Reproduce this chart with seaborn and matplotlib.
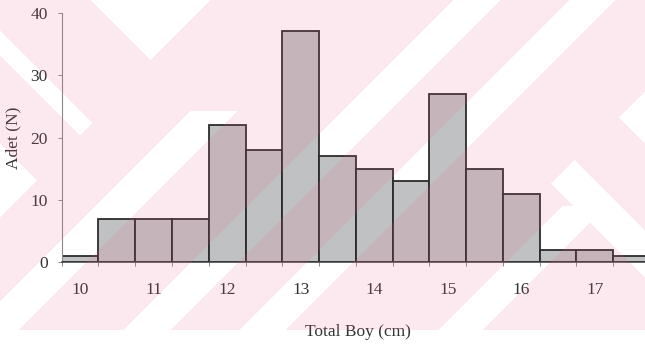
import numpy as np
import pandas as pd
import matplotlib
matplotlib.use("Agg")
import matplotlib.pyplot as plt
import seaborn as sns

# Length-frequency table: class mid-points (cm) and number of fish per class
bin_centers = [10.0, 10.5, 11.0, 11.5, 12.0, 12.5, 13.0, 13.5,
               14.0, 14.5, 15.0, 15.5, 16.0, 16.5, 17.0, 17.5]
counts = [1, 7, 7, 7, 22, 18, 37, 17, 15, 13, 27, 15, 11, 2, 2, 1]
x_ticks = [10, 11, 12, 13, 14, 15, 16, 17]
x_tick_labels = ["10", "11", "12", "13", "14", "15", "16", "17"]
y_ticks = [0, 10, 20, 30, 40]
x_label = "Total Boy (cm)"
y_label = "Adet (N)"

W, H = 645, 347
DPI = 100

sns.set_theme(style="ticks")
plt.rcParams["font.family"] = ["Liberation Serif", "DejaVu Serif"]

fig = plt.figure(figsize=(W / DPI, H / DPI), dpi=DPI)
fig.patch.set_facecolor("white")

ax_left, ax_right, ax_top, ax_bottom = 61.7, 650.0, 12.7, 262.3
ax = fig.add_axes([ax_left / W, 1 - ax_bottom / H,
                   (ax_right - ax_left) / W, (ax_bottom - ax_top) / H])
ax.patch.set_alpha(0)

half = 0.25
edges = [float(c - half) for c in bin_centers] + [float(bin_centers[-1] + half)]
df = pd.DataFrame({"length": bin_centers, "n": counts})
sns.histplot(data=df, x="length", weights="n", bins=edges, ax=ax,
             color="#c0c1c3", alpha=1.0, edgecolor="#2b2b2b", linewidth=1.3)

ax.set_xlim(edges[0], edges[-1])
ax.set_ylim(0, 40)

fs = 12.5
ax.set_yticks(y_ticks)
ax.set_yticklabels([str(v) for v in y_ticks], fontsize=fs, color="#333333")
ax.tick_params(axis="y", length=3, width=0.7, color="#8a8a8a", pad=7)

ax.set_xticks(x_ticks)
ax.set_xticklabels(x_tick_labels, fontsize=fs, color="#333333")
ax.set_xticks(edges, minor=True)
ax.tick_params(axis="x", which="major", length=0, pad=14)
ax.tick_params(axis="x", which="minor", length=3, width=0.7, color="#8a8a8a")

for side in ("top", "right"):
    ax.spines[side].set_visible(False)
ax.spines["left"].set_color("#8a8a8a")
ax.spines["left"].set_linewidth(0.8)
ax.spines["bottom"].set_color("#3a3a3a")
ax.spines["bottom"].set_linewidth(1.1)

ax.set_xlabel(x_label, fontsize=fs, color="#333333")
ax.xaxis.set_label_coords((357.5 - ax_left) / (ax_right - ax_left),
                          -(323.5 - ax_bottom) / (ax_bottom - ax_top))
ax.set_ylabel(y_label, fontsize=fs, color="#333333")
ax.yaxis.set_label_coords(-(61.7 - 21.5) / (ax_right - ax_left), 0.5)

# Faint pink background print with white diagonal bands
yy, xx = np.mgrid[0:H, 0:W].astype(float)
s = xx + yy
d = yy - xx
white = np.zeros((H, W), bool)
white |= yy < np.minimum(xx - 90, 210 - xx)                 # top chevron
white |= (d > 30) & (d < 56) & (s < 215)                     # upper-left stroke
white |= xx < np.minimum(yy - 143, 217 - yy)                 # left tip
white |= (s > 300) & (s < 348) & (yy > 110)                  # rising band 1
white |= (s > 452) & (s < 500)                               # rising band 2
white |= (s > 568) & (s < 615)                               # rising band 3
white |= (s > 767) & (s < 812) & (yy > 205)                  # rising band 4
white |= (xx - 618) > np.abs(yy - 117)                       # right tip
white |= (d > -415) & (d < -367) & (s > 733)                 # lower-right stroke
pink = (yy < 330) & ~white

overlay = np.zeros((H, W, 4))
overlay[..., 0] = 240 / 255
overlay[..., 1] = 100 / 255
overlay[..., 2] = 140 / 255
overlay[..., 3] = np.where(pink, 0.14, 0.0)
fig.figimage(overlay, xo=0, yo=0, origin="upper", zorder=10)

fig.savefig("out.png", dpi=DPI, facecolor="white")
